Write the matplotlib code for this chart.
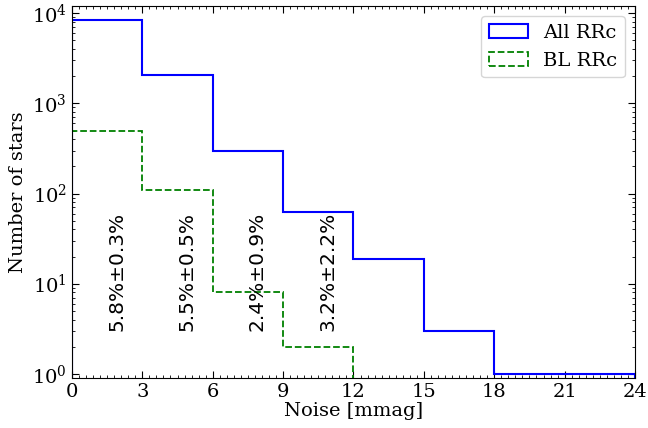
import matplotlib
matplotlib.use('Agg')
import matplotlib.pyplot as plt
from matplotlib.ticker import AutoMinorLocator, MultipleLocator
import numpy as np

# bin edges in mmag and star counts per bin
bin_edges = [0, 3, 6, 9, 12, 15, 18, 21, 24]
all_rrc = [8450, 2040, 294, 62, 19, 3, 1, 1]
bl_rrc = [490, 110, 8, 2, 0, 0, 0, 0]
# blazhko fraction labels, one per bin
bl_labels = ['5.8%±0.3%', '5.5%±0.5%', '2.4%±0.9%', '3.2%±2.2%']

plt.rcParams['font.family'] = 'DejaVu Serif'

fig, ax = plt.subplots(figsize=(6.48, 4.28), dpi=100)

centers = [(bin_edges[i] + bin_edges[i + 1]) / 2 for i in range(len(bin_edges) - 1)]
ax.hist(centers, bins=bin_edges, weights=all_rrc, histtype='step',
        color='blue', lw=1.5, label='All RRc')
ax.hist(centers[:4], bins=bin_edges[:5], weights=bl_rrc[:4], histtype='step',
        color='green', ls='--', lw=1.3, label='BL RRc')
ax.set_yscale('log')

for i, s in enumerate(bl_labels):
    ax.text(centers[i], 3, s, rotation=90, ha='left', va='bottom',
            fontsize=14.5, family='DejaVu Sans')

ax.set_xlim(0, 24)
ax.set_ylim(0.9, 1.19e4)
ax.xaxis.set_major_locator(MultipleLocator(3))
ax.xaxis.set_minor_locator(AutoMinorLocator(10))
ax.tick_params(which='both', direction='in', top=True, right=True, labelsize=14)
ax.tick_params(which='major', length=5)
ax.tick_params(which='minor', length=2.5)

ax.set_xlabel('Noise [mmag]', fontsize=14, labelpad=1)
ax.set_ylabel('Number of stars', fontsize=14)
ax.legend(loc='upper right', fontsize=14)

fig.subplots_adjust(left=0.111, right=0.98, top=0.985, bottom=0.117)
fig.savefig('out.png', dpi=100)
